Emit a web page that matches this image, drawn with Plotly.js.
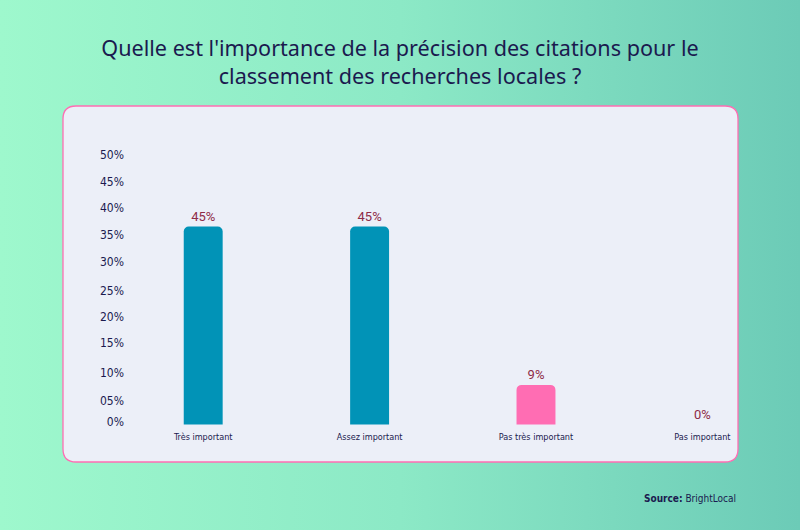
<!DOCTYPE html>
<html>
<head>
<meta charset="utf-8">
<script src="https://cdn.plot.ly/plotly-3.0.1.min.js"></script>
<style>
  html, body { margin: 0; padding: 0; }
  body { width: 800px; height: 530px; background: linear-gradient(90deg, #9ef8cd 0%, #8ce9c6 50%, #6ccbb7 100%); overflow: hidden; }
  #chart { width: 800px; height: 530px; }
</style>
</head>
<body>
<div id="chart"></div>
<script>
// ---- data ----
const categories = ["Très important", "Assez important", "Pas très important", "Pas important"];
const values = [45, 45, 9, 0];
const valueLabels = ["45%", "45%", "9%", "0%"];
const tickLabels = ["0%", "05%", "10%", "15%", "20%", "25%", "30%", "35%", "40%", "45%", "50%"];

// ---- layout / styling ----
const barColors = ["#0193b7", "#0193b7", "#ff6db3", "#ff6db3"];
const W = 800, H = 530;
const M = { l: 125, r: 62, t: 100, b: 100 };
const plotW = W - M.l - M.r, plotH = H - M.t - M.b;
const yPxPerUnit = 4.4, yZeroPx = 424.5;
const yRange = [-(M.t + plotH - yZeroPx) / yPxPerUnit, (yZeroPx - M.t) / yPxPerUnit];
// decorative tick label rows (pixel rows as in the original infographic)
const tickRowsPx = [422, 401, 373, 343, 317, 291, 262, 235, 208, 182, 155];
const tickVals = tickRowsPx.map(p => (yZeroPx - p) / yPxPerUnit);
const xRange = [-0.47, 3.214];

const px2x = p => (p - M.l) / plotW;
const px2y = p => (M.t + plotH - p) / plotH;

function roundedRectPath(x0p, y0p, x1p, y1p, r) {
  const x0 = px2x(x0p), x1 = px2x(x1p), yt = px2y(y0p), yb = px2y(y1p);
  const rx = r / plotW, ry = r / plotH;
  return `M ${x0 + rx},${yt} L ${x1 - rx},${yt} Q ${x1},${yt} ${x1},${yt - ry} ` +
         `L ${x1},${yb + ry} Q ${x1},${yb} ${x1 - rx},${yb} L ${x0 + rx},${yb} ` +
         `Q ${x0},${yb} ${x0},${yb + ry} L ${x0},${yt - ry} Q ${x0},${yt} ${x0 + rx},${yt} Z`;
}

const narrow = "DejaVu Sans Condensed, Liberation Sans Narrow, Roboto, sans-serif";

const trace = {
  type: "bar",
  x: categories,
  y: values,
  text: valueLabels,
  textposition: "outside",
  cliponaxis: false,
  textfont: { family: "Roboto, sans-serif", size: 13, color: "#8e2b47" },
  marker: { color: barColors, cornerradius: 5, line: { width: 0 } },
  width: 0.234,
  hoverinfo: "none"
};

const layout = {
  width: W, height: H,
  margin: M,
  paper_bgcolor: "rgba(0,0,0,0)",
  plot_bgcolor: "rgba(0,0,0,0)",
  showlegend: false,
  title: {
    text: "Quelle est l'importance de la précision des citations pour le<br>classement des recherches locales ?",
    x: 0.5, xref: "container", xanchor: "center",
    y: 1 - 56 / H, yref: "container", yanchor: "middle",
    font: { family: "Noto Sans, Open Sans, sans-serif", size: 21.6, color: "#1b1a4f" }
  },
  xaxis: {
    type: "category",
    range: xRange,
    showgrid: false, zeroline: false, showline: false, ticks: "",
    tickfont: { family: narrow, size: 9, color: "#1b1a4f" },
    ticklabelstandoff: 0,
    fixedrange: true
  },
  yaxis: {
    range: yRange,
    tickmode: "array",
    tickvals: tickVals,
    ticktext: tickLabels,
    showgrid: false, zeroline: false, showline: false, ticks: "",
    tickfont: { family: narrow, size: 12, color: "#1b1a4f" },
    fixedrange: true
  },
  shapes: [{
    type: "path", xref: "paper", yref: "paper", layer: "below",
    path: roundedRectPath(63, 106, 738, 462, 13),
    fillcolor: "#eceff8",
    line: { color: "#ff6db3", width: 1.3 }
  }],
  annotations: [{
    xref: "paper", yref: "paper",
    x: px2x(738), y: px2y(498),
    xanchor: "right", yanchor: "middle",
    showarrow: false,
    text: "<b>Source:</b> BrightLocal",
    font: { family: narrow, size: 10, color: "#1b1a4f" }
  }]
};

Plotly.newPlot("chart", [trace], layout, { displayModeBar: false, staticPlot: true });
</script>
</body>
</html>
